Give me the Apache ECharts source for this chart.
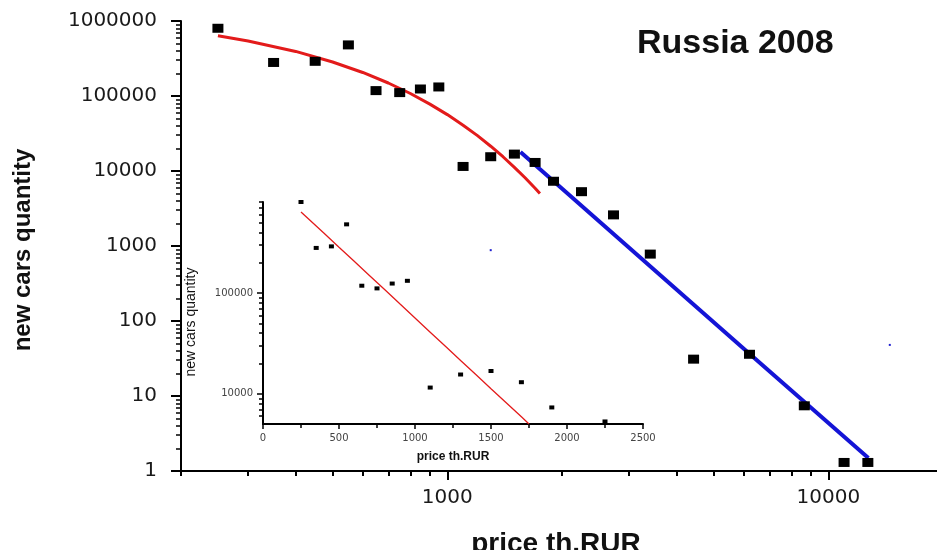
<!DOCTYPE html>
<html>
<head>
<meta charset="utf-8">
<title>Russia 2008 — new cars vs price</title>
<script src="https://cdn.jsdelivr.net/npm/echarts@6/dist/echarts.min.js"></script>
<style>
  html, body { margin: 0; padding: 0; background: #fff; }
  #chart { width: 937px; height: 550px; }
</style>
</head>
<body>
<div id="chart"></div>
<script>
// Sales of new cars by price band (thousand roubles)
const priceThRub = [250, 350, 450, 550, 650, 750, 850, 950, 1100, 1300, 1500, 1700, 1900, 2250, 2730, 3410, 4430, 6210, 8650, 11000, 12700];
const newCars = [800000, 280000, 290000, 480000, 118000, 111000, 124000, 132000, 11500, 15500, 16800, 13000, 7300, 5300, 2600, 780, 31, 36, 7.4, 1.3, 1.3];

// Exponential fit for the cheaper segment
const expFitPrice = [250, 300, 400, 500, 600, 700, 800, 900, 1000, 1100, 1200, 1300, 1400, 1500, 1600, 1700, 1750];
const expFitCars = [637000, 542000, 393000, 284000, 206000, 149000, 108000, 78000, 56500, 40800, 29600, 21400, 15500, 11200, 8130, 5890, 5010];

// Power-law fit for the expensive segment
const powerFitPrice = [1556, 6210, 12740];
const powerFitCars = [17900, 36.5, 1.49];

// Two stray fit markers
const strayPrice = [1300, 14500];
const strayCars = [880, 48];

// Tick positions
const mainPriceMajor = [1000, 10000];
const mainPriceMinor = [200, 300, 400, 500, 600, 700, 800, 900, 2000, 3000, 4000, 5000, 6000, 7000, 8000, 9000];
const mainCarsMajor = [1, 10, 100, 1000, 10000, 100000, 1000000];
const mainCarsMinor = [];
for (const d of [1, 10, 100, 1000, 10000, 100000]) {
  for (const m of [2, 3, 4, 5, 6, 7, 8, 9]) mainCarsMinor.push(d * m);
}
const insetCarsMajor = [10000, 100000];
const insetCarsMinor = [6000, 7000, 8000, 9000, 20000, 30000, 40000, 50000, 60000, 70000, 80000, 90000,
  200000, 300000, 400000, 500000, 600000, 700000, 800000];

const zip = (xs, ys) => xs.map((x, i) => [x, ys[i]]);
const insetLimit = 2500;
const insetPoints = zip(priceThRub, newCars).filter(p => p[0] <= insetLimit);

const sans = '"Liberation Sans", Arial, sans-serif';
const wide = '"DejaVu Sans", sans-serif';
const black = '#000';
const plain = v => String(Math.round(v));

function majorAxisBase(extra) {
  return Object.assign({
    axisLine: { onZero: false, lineStyle: { color: black, width: 2 } },
    splitLine: { show: false },
    minorTick: { show: false }
  }, extra);
}
function minorAxis(extra) {
  return Object.assign({
    axisLine: { show: false, onZero: false },
    axisLabel: { show: false },
    splitLine: { show: false },
    silent: true
  }, extra);
}

const chart = echarts.init(document.getElementById('chart'), null, { renderer: 'canvas' });

const option = {
  animation: false,
  backgroundColor: '#fff',
  title: {
    text: 'Russia 2008',
    left: 632,
    top: 22,
    textStyle: { fontFamily: sans, fontSize: 34, fontWeight: 'bold', color: '#111' }
  },
  grid: [
    { left: 181, top: 21, right: -6, bottom: 79, outerBoundsMode: 'none', containLabel: false },
    { left: 263, top: 202, width: 380, height: 222, outerBoundsMode: 'none', containLabel: false }
  ],
  xAxis: [
    majorAxisBase({
      gridIndex: 0, type: 'log', logBase: 10, min: 200, max: 20000, position: 'bottom',
      name: 'price th.RUR', nameLocation: 'middle', nameGap: 59,
      nameTextStyle: { fontFamily: sans, fontSize: 28, fontWeight: 'bold', color: '#111', padding: [0, 12, 0, 0] },
      axisTick: { show: true, inside: false, length: 9, lineStyle: { color: black, width: 2 }, customValues: mainPriceMajor },
      axisLabel: { customValues: mainPriceMajor, margin: 17, fontFamily: wide, fontSize: 20, color: '#1a1a1a', formatter: plain }
    }),
    minorAxis({
      gridIndex: 0, type: 'log', logBase: 10, min: 200, max: 20000, position: 'bottom',
      axisTick: { show: true, length: 5, lineStyle: { color: black, width: 2 }, customValues: mainPriceMinor }
    }),
    majorAxisBase({
      gridIndex: 1, type: 'value', min: 0, max: 2500, interval: 500, position: 'bottom',
      name: 'price th.RUR', nameLocation: 'middle', nameGap: 27,
      nameTextStyle: { fontFamily: sans, fontSize: 12, fontWeight: 'bold', color: '#111' },
      axisLine: { onZero: false, lineStyle: { color: black, width: 2 } },
      axisTick: { show: true, length: 5, lineStyle: { color: black, width: 1.5 } },
      minorTick: { show: true, splitNumber: 2, length: 4, lineStyle: { color: black, width: 1.5 } },
      axisLabel: { margin: 9, fontFamily: wide, fontSize: 10, color: '#444', formatter: plain }
    })
  ],
  yAxis: [
    majorAxisBase({
      gridIndex: 0, type: 'log', logBase: 10, min: 1, max: 1000000, position: 'left',
      name: 'new cars quantity', nameLocation: 'middle', nameGap: 146, nameRotate: 90,
      nameTextStyle: { fontFamily: sans, fontSize: 24, fontWeight: 'bold', color: '#111', padding: [0, 8, 0, 0] },
      axisTick: { show: true, length: 10, lineStyle: { color: black, width: 2 }, customValues: mainCarsMajor },
      axisLabel: { customValues: mainCarsMajor, margin: 24, fontFamily: wide, fontSize: 20, color: '#1a1a1a', formatter: plain }
    }),
    minorAxis({
      gridIndex: 0, type: 'log', logBase: 10, min: 1, max: 1000000, position: 'left',
      axisTick: { show: true, length: 5, lineStyle: { color: black, width: 1.5 }, customValues: mainCarsMinor }
    }),
    majorAxisBase({
      gridIndex: 1, type: 'log', logBase: 10, min: 5000, max: 800000, position: 'left',
      name: 'new cars quantity', nameLocation: 'middle', nameGap: 65, nameRotate: 90,
      nameTextStyle: { fontFamily: sans, fontSize: 14, color: '#111', padding: [0, 18, 0, 0] },
      axisTick: { show: true, length: 6, lineStyle: { color: black, width: 1.5 }, customValues: insetCarsMajor },
      axisLabel: { customValues: insetCarsMajor, margin: 10, fontFamily: wide, fontSize: 10, color: '#444', formatter: plain }
    }),
    minorAxis({
      gridIndex: 1, type: 'log', logBase: 10, min: 5000, max: 800000, position: 'left',
      axisTick: { show: true, length: 4, lineStyle: { color: black, width: 1.5 }, customValues: insetCarsMinor }
    })
  ],
  series: [
    {
      name: 'exp fit', type: 'line', xAxisIndex: 0, yAxisIndex: 0,
      data: zip(expFitPrice, expFitCars), showSymbol: false, symbol: 'none',
      lineStyle: { color: '#e31b1b', width: 3 }, z: 2
    },
    {
      name: 'power fit', type: 'line', xAxisIndex: 0, yAxisIndex: 0,
      data: zip(powerFitPrice, powerFitCars), showSymbol: false, symbol: 'none',
      lineStyle: { color: '#1414d6', width: 4 }, z: 2
    },
    {
      name: 'sales', type: 'scatter', xAxisIndex: 0, yAxisIndex: 0,
      data: zip(priceThRub, newCars), symbol: 'rect', symbolSize: [11, 9],
      itemStyle: { color: black, opacity: 1 }, z: 3
    },
    {
      name: 'stray', type: 'scatter', xAxisIndex: 0, yAxisIndex: 0,
      data: zip(strayPrice, strayCars), symbol: 'rect', symbolSize: 2,
      itemStyle: { color: '#2020d0', opacity: 1 }, z: 3
    },
    {
      name: 'inset exp fit', type: 'line', xAxisIndex: 2, yAxisIndex: 2,
      data: zip(expFitPrice, expFitCars), showSymbol: false, symbol: 'none',
      lineStyle: { color: '#e31b1b', width: 1.3 }, z: 2
    },
    {
      name: 'inset sales', type: 'scatter', xAxisIndex: 2, yAxisIndex: 2,
      data: insetPoints, symbol: 'rect', symbolSize: [5, 4],
      itemStyle: { color: black, opacity: 1 }, z: 3
    }
  ]
};

chart.setOption(option);
</script>
</body>
</html>
